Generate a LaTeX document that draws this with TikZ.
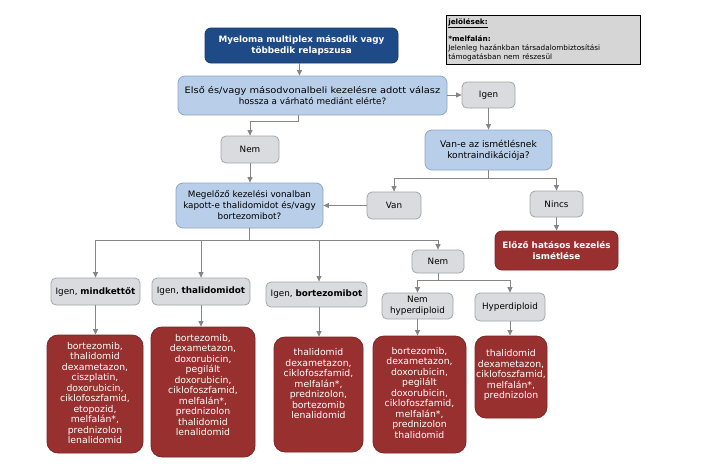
\documentclass[tikz,border=0pt]{standalone}
\usepackage{fontspec}
\usepackage{graphicx}
\setmainfont{DejaVu Sans}
\usetikzlibrary{arrows.meta}
\definecolor{lineclr}{HTML}{858585}
\definecolor{grayfill}{HTML}{D9DBDE}
\definecolor{grayline}{HTML}{A3A6A9}
\definecolor{bluefill}{HTML}{B9CFE9}
\definecolor{blueline}{HTML}{8DA7C6}
\definecolor{titlefill}{HTML}{1E4B87}
\definecolor{titleline}{HTML}{163A6A}
\definecolor{redfill}{HTML}{983030}
\definecolor{redline}{HTML}{7E2424}
\definecolor{legendfill}{HTML}{D6D6D6}
\begin{document}
\begin{tikzpicture}[x=1pt,y=-1pt,
  box/.style={draw, rounded corners=5pt, align=center, inner sep=0pt, line width=0.8pt,
    font=\fontsize{8.8}{11}\selectfont},
  graybox/.style={box, fill=grayfill, draw=grayline},
  bluebox/.style={box, fill=bluefill, draw=blueline, rounded corners=7pt},
  titlebox/.style={box, fill=titlefill, draw=titleline, text=white, rounded corners=6pt,
    font=\fontsize{8.8}{11}\selectfont\bfseries},
  redbox/.style={box, fill=redfill, draw=redline, rounded corners=11pt},
  redtext/.style={align=center, inner sep=0pt, text=white, anchor=north,
    font=\fontsize{9.3}{10.5}\selectfont},
  legendbox/.style={draw=black, line width=0.5pt, fill=legendfill, align=left,
    inner xsep=2pt, inner ysep=2pt, font=\fontsize{7.3}{8.7}\selectfont},
  arr/.style={draw=lineclr, line width=0.9pt, -{Triangle[length=5.5pt,width=5pt]}}
]
\path[fill=white, use as bounding box] (0,0) rectangle (703,469);

% nodes
\node[titlebox, minimum width=193pt, minimum height=35pt] (title) at (301.5,45.5)
  {Myeloma multiplex második vagy\\többedik relapszusa};
\node[legendbox, anchor=north west, minimum width=194pt, minimum height=49pt, text width=190pt] (legend) at (446,15)
  {\underline{\textbf{jelölések:}}\\ ~ \\ \textbf{*melfalán:}\\Jelenleg hazánkban társadalombiztosítási\\támogatásban nem részesül};
\node[bluebox, minimum width=269pt, minimum height=39pt] (q1) at (312.5,95.5)
  {\scalebox{1.12}[1]{Első és/vagy másodvonalbeli kezelésre adott válasz}\\hossza a várható mediánt elérte?};
\node[graybox, minimum width=53pt, minimum height=26pt] (igen1) at (488.5,95) {Igen};
\node[graybox, minimum width=58pt, minimum height=27pt] (nem1) at (250,149.5) {Nem};
\node[bluebox, minimum width=127pt, minimum height=40pt, font=\fontsize{9.1}{11}\selectfont] (vane) at (488.5,150)
  {Van-e az ismétlésnek\\kontraindikációja?};
\node[graybox, minimum width=54pt, minimum height=27pt] (van) at (394,205.5) {Van};
\node[graybox, minimum width=53pt, minimum height=26pt] (nincs) at (556.5,204) {Nincs};
\node[redbox, rounded corners=7pt, text=white, font=\fontsize{8.8}{11}\selectfont\bfseries,
  minimum width=123pt, minimum height=39pt] (elozo) at (556.5,250.5)
  {Előző hatásos kezelés\\ismétlése};
\node[bluebox, minimum width=147pt, minimum height=45pt] (meg) at (249.5,205.5)
  {Megelőző kezelési vonalban\\kapott-e thalidomidot és/vagy\\bortezomibot?};
\node[graybox, minimum width=89pt, minimum height=27pt] (ig1) at (95.5,291.5) {Igen, \textbf{mindkettőt}};
\node[graybox, minimum width=98pt, minimum height=27pt] (ig2) at (201,291.5) {Igen, \textbf{thalidomidot}};
\node[graybox, minimum width=101pt, minimum height=25pt] (ig3) at (316.5,294.5) {Igen, \textbf{bortezomibot}};
\node[graybox, minimum width=52pt, minimum height=23pt] (nem2) at (438,261.5) {Nem};
\node[graybox, minimum width=71pt, minimum height=26pt] (nhyp) at (417.5,306) {Nem\\hyperdiploid};
\node[graybox, minimum width=70pt, minimum height=28pt] (hyp) at (510,307) {Hyperdiploid};

\node[redbox, minimum width=96pt, minimum height=118pt] (r1) at (95,394) {};
\node[redbox, minimum width=104pt, minimum height=130pt] (r2) at (203,392) {};
\node[redbox, minimum width=89pt, minimum height=115pt] (r3) at (318.5,394.5) {};
\node[redbox, minimum width=93pt, minimum height=117pt] (r4) at (419.5,394.5) {};
\node[redbox, minimum width=72pt, minimum height=82pt] (r5) at (511,377) {};

\node[redtext] (r1t) at ([yshift=-7.5pt]r1.north)
  {bortezomib,\\thalidomid\\dexametazon,\\ciszplatin,\\doxorubicin,\\ciklofoszfamid,\\etopozid,\\melfalán*,\\prednizolon\\lenalidomid};
\node[redtext] (r2t) at ([yshift=-7.5pt]r2.north)
  {bortezomib,\\dexametazon,\\doxorubicin,\\pegilált\\doxorubicin,\\ciklofoszfamid,\\melfalán*,\\prednizolon\\thalidomid\\lenalidomid};
\node[redtext] (r3t) at ([yshift=-12pt]r3.north)
  {thalidomid\\dexametazon,\\ciklofoszfamid,\\melfalán*,\\prednizolon,\\bortezomib\\lenalidomid};
\node[redtext] (r4t) at ([yshift=-11.5pt]r4.north)
  {bortezomib,\\dexametazon,\\doxorubicin,\\pegilált\\doxorubicin,\\ciklofoszfamid,\\melfalán*,\\prednizolon\\thalidomid};
\node[redtext] (r5t) at ([yshift=-14pt]r5.north)
  {thalidomid\\dexametazon,\\ciklofoszfamid,\\melfalán*,\\prednizolon};

% connectors
\coordinate (tb) at ([xshift=-2pt]title.south);
\draw[arr] (tb) -- (tb |- q1.north);
\draw[arr] (q1.east |- igen1.west) -- (igen1.west);
\coordinate (q1b) at ([xshift=-14.5pt]q1.south);
\draw[arr] (q1b) -- ++(0,6) -| (nem1.north);
\draw[arr] (nem1.south) -- (nem1.south |- meg.north);
\draw[arr] (igen1.south) -- (vane.north);
\draw[arr] (vane.south) -- ++(0,8) -| (van.north);
\draw[arr] (vane.south) -- ++(0,8) -| (nincs.north);
\draw[arr] (van.west) -- (meg.east);
\draw[arr] (nincs.south) -- (elozo.north);
\draw[arr] (meg.south) -- ++(0,12) -| (ig1.north);
\draw[arr] (meg.south) -- ++(0,12) -| (ig2.north);
\draw[arr] (meg.south) -- ++(0,12) -| ([xshift=2.5pt]ig3.north);
\draw[arr] (meg.south) -- ++(0,12) -| (nem2.north);
\draw[arr] (nem2.south) -- ++(0,7) -| (nhyp.north);
\draw[arr] (nem2.south) -- ++(0,7) -| (hyp.north);
\draw[arr] (ig1.south) -- (ig1.south |- r1.north);
\draw[arr] (ig2.south) -- (ig2.south |- r2.north);
\draw[arr] ([xshift=2.5pt]ig3.south) -- ([xshift=2.5pt]ig3.south |- r3.north);
\draw[arr] (nhyp.south) -- (nhyp.south |- r4.north);
\draw[arr] (hyp.south) -- (hyp.south |- r5.north);
\end{tikzpicture}
\end{document}
